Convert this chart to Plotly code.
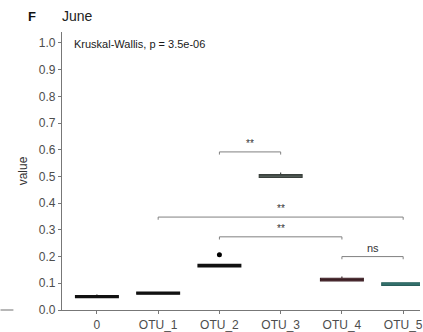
import plotly.graph_objects as go

# ---- data ----
categories = ["0", "OTU_1", "OTU_2", "OTU_3", "OTU_4", "OTU_5"]
q1 = [0.046, 0.059, 0.161, 0.496, 0.109, 0.092]
median = [0.050, 0.063, 0.166, 0.502, 0.114, 0.097]
q3 = [0.054, 0.067, 0.171, 0.507, 0.119, 0.102]
lowerfence = [0.044, 0.057, 0.159, 0.495, 0.107, 0.091]
upperfence = [0.058, 0.068, 0.172, 0.515, 0.125, 0.103]
fill_colors = ["#111111", "#111111", "#111111", "#6b7670", "#7a4a50", "#4fa39d"]
line_colors = ["#111111", "#111111", "#111111", "#3a403c", "#3a1f24", "#2a5f5b"]
outlier_cat = ["OTU_2"]
outlier_val = [0.207]

# comparisons: (group a, group b, y level, label)
comp_a = ["OTU_2", "OTU_1", "OTU_2", "OTU_4"]
comp_b = ["OTU_3", "OTU_5", "OTU_4", "OTU_5"]
comp_y = [0.592, 0.348, 0.274, 0.200]
comp_lab = ["**", "**", "**", "ns"]

kw_text = "Kruskal-Wallis, p = 3.5e-06"

fig = go.Figure()
for i, c in enumerate(categories):
    fig.add_trace(go.Box(
        x=[c], q1=[q1[i]], median=[median[i]], q3=[q3[i]],
        lowerfence=[lowerfence[i]], upperfence=[upperfence[i]],
        fillcolor=fill_colors[i], line=dict(color=line_colors[i], width=1.1),
        width=0.7, whiskerwidth=0, boxpoints=False, showlegend=False,
    ))
fig.add_trace(go.Scatter(x=outlier_cat, y=outlier_val, mode="markers",
                         marker=dict(color="black", size=5), showlegend=False))

idx = {c: i for i, c in enumerate(categories)}
tip = 0.01
for a, b, yv, lab in zip(comp_a, comp_b, comp_y, comp_lab):
    xa, xb = idx[a], idx[b]
    fig.add_shape(type="path",
                  path=f"M {xa} {yv - tip} L {xa} {yv} L {xb} {yv} L {xb} {yv - tip}",
                  xref="x", yref="y", line=dict(color="#808080", width=1))
    fig.add_annotation(x=(xa + xb) / 2, y=yv, text=lab, showarrow=False,
                       yanchor="bottom", yshift=1,
                       font=dict(size=10 if lab == "**" else 11, color="#333333"))

fig.add_annotation(xref="paper", yref="y", x=0.027, y=0.997, text=kw_text,
                   showarrow=False, xanchor="left", yanchor="middle",
                   font=dict(size=11, color="#1a1a1a"))
fig.add_annotation(xref="paper", yref="paper", x=-0.10, y=1.055, text="<b>F</b>",
                   showarrow=False, xanchor="left", yanchor="middle",
                   font=dict(size=13, color="#111111"))
# fragment of neighbouring panel axis
fig.add_shape(type="line", xref="paper", yref="paper", x0=-62/361, x1=-49/361,
              y0=0, y1=0, line=dict(color="#888888", width=1.2))

fig.update_layout(
    width=423, height=332,
    margin=dict(l=62, r=0, t=32, b=18),
    plot_bgcolor="white", paper_bgcolor="white",
    font=dict(family="Liberation Sans, Arial, sans-serif", color="#4d4d4d"),
    title=dict(text="June", x=0, xref="paper", xanchor="left", y=1 - 16/332,
               yanchor="middle", font=dict(size=14, color="#222222")),
    xaxis=dict(type="category", categoryorder="array", categoryarray=categories,
               range=[-0.57, 5.275], showline=True, linecolor="#777777", linewidth=1.2,
               ticks="outside", ticklen=3, tickcolor="#777777", showgrid=False,
               tickfont=dict(size=12, color="#4d4d4d"), zeroline=False),
    yaxis=dict(range=[0, 1.041], tickvals=[i / 10 for i in range(11)],
               ticktext=[f"{i/10:.1f}" for i in range(11)],
               showline=True, linecolor="#777777", linewidth=1.2,
               ticks="outside", ticklen=3, tickcolor="#777777", showgrid=False,
               zeroline=False, tickfont=dict(size=12, color="#4d4d4d"),
               title=dict(text="value", standoff=8, font=dict(size=12, color="#333333"))),
)

fig.write_html("out.html")
